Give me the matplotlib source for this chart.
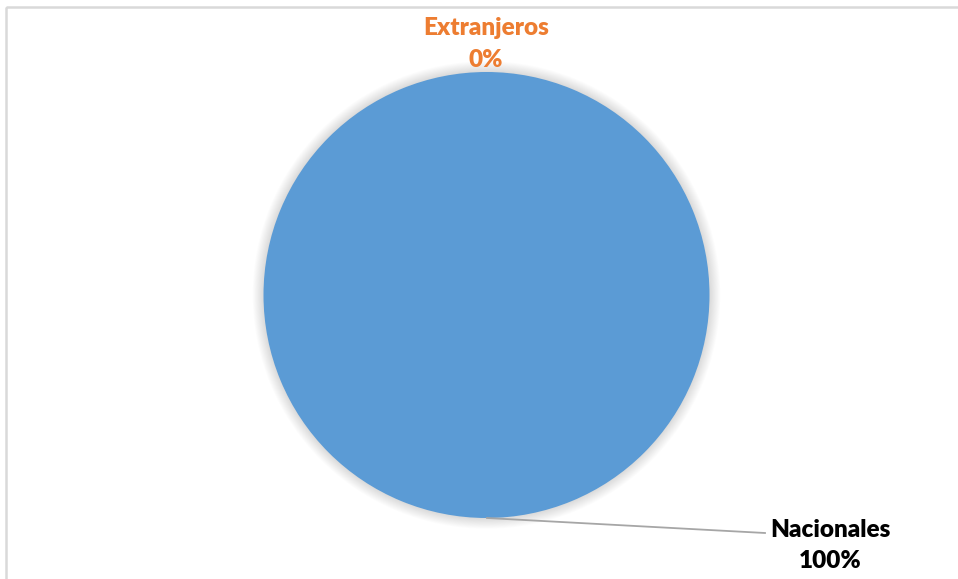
import matplotlib.pyplot as plt
from matplotlib.patches import Circle, Rectangle

categories = ["Nacionales", "Extranjeros"]
values = [100, 0]
colors = ["#5B9BD5", "#ED7D31"]
label_colors = ["#000000", "#ED7D31"]

W, H = 958, 579
fig = plt.figure(figsize=(W / 100, H / 100), dpi=100)
ax = fig.add_axes([0, 0, 1, 1])

cx, cy, r = 486.5, 295.0, 223.0

# soft shadow around the pie
for i in range(12, 0, -1):
    ax.add_patch(Circle((cx, cy), r + i * 0.9, facecolor="#000000",
                        alpha=0.010, edgecolor="none", zorder=1))

ax.pie(values, colors=colors, center=(cx, cy), radius=r, startangle=90,
       counterclock=False, wedgeprops=dict(edgecolor="none", zorder=2))

total = sum(values)
pcts = [round(v / total * 100) for v in values]
font = dict(family=["Lato", "DejaVu Sans"], fontweight="heavy", fontsize=17.5)

# Nacionales label with leader line
ax.plot([487, 765], [518, 533], color="#A6A6A6", lw=1.3, zorder=3)
ax.text(830, 530, f"{categories[0]}", ha="center", va="center",
        color=label_colors[0], **font)
ax.text(830, 561, f"{pcts[0]}%", ha="center", va="center",
        color=label_colors[0], **font)

# Extranjeros label above the pie
ax.text(486, 28, f"{categories[1]}", ha="center", va="center",
        color=label_colors[1], **font)
ax.text(486, 60, f"{pcts[1]}%", ha="center", va="center",
        color=label_colors[1], **font)

# chart area border
ax.add_patch(Rectangle((6, 7), 1000, 1000, facecolor="none",
                       edgecolor="#D9D9D9", lw=1.8, zorder=4))

ax.set_xlim(0, W)
ax.set_ylim(H, 0)
ax.set_aspect("equal")
ax.axis("off")

fig.savefig("out.png", dpi=100)
